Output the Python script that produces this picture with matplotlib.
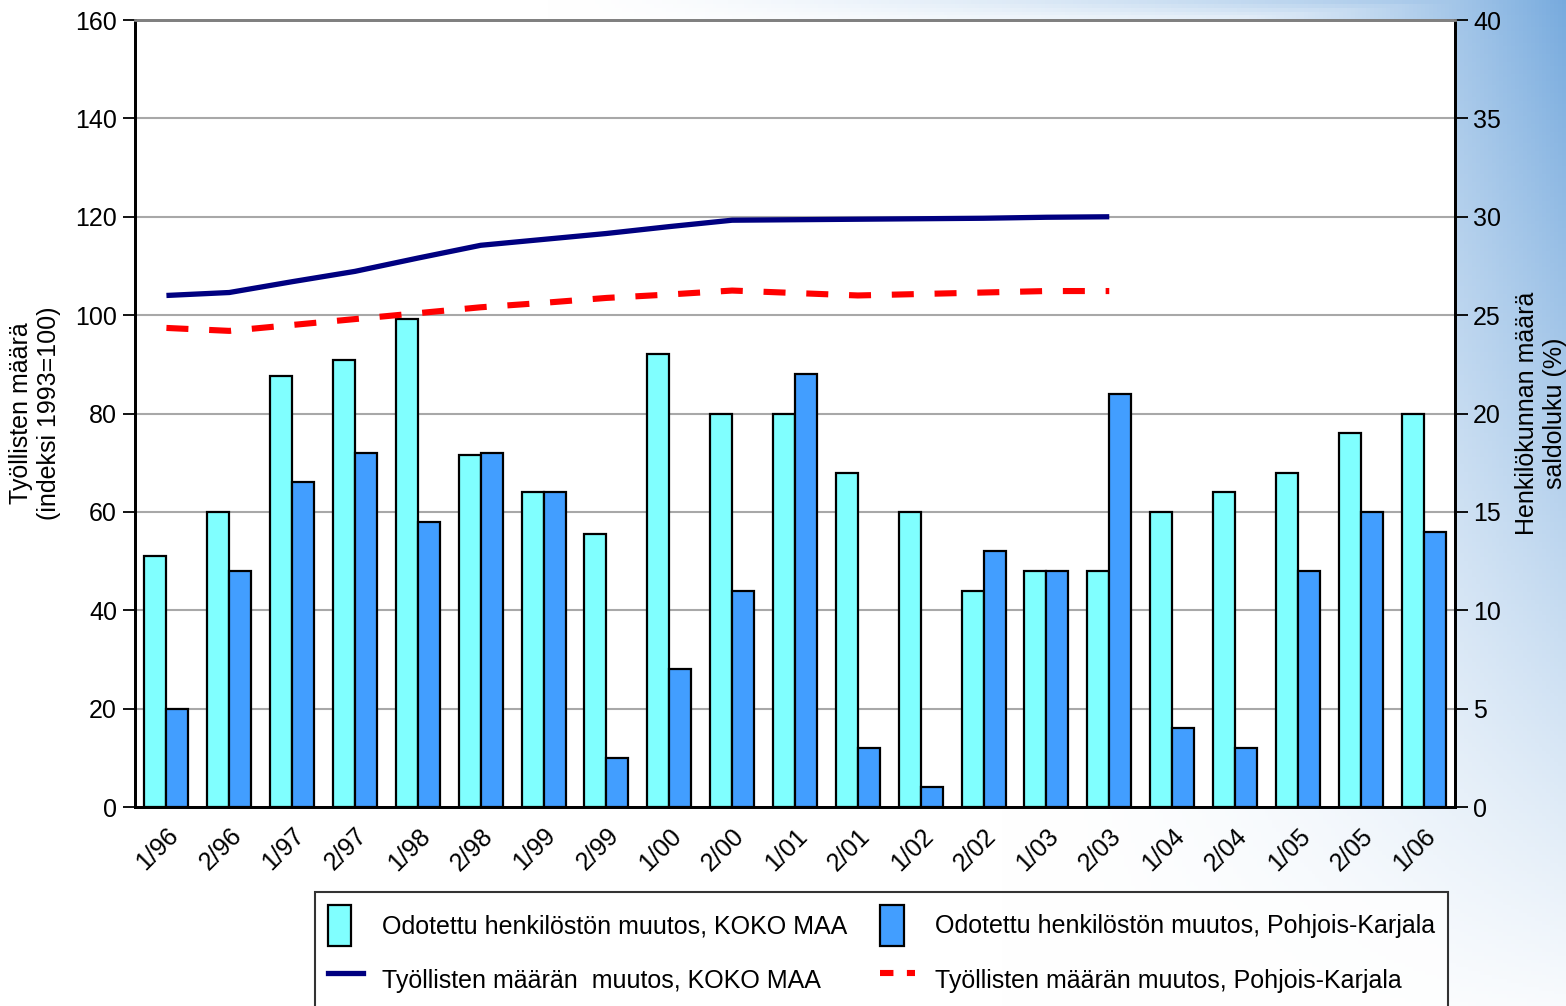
import matplotlib
matplotlib.use("Agg")
import matplotlib.pyplot as plt
import matplotlib.transforms as mtransforms
import numpy as np
from matplotlib.patches import Patch, Rectangle
from matplotlib.lines import Line2D
from matplotlib.legend_handler import HandlerPatch

plt.rcParams["font.family"] = ["Liberation Sans", "DejaVu Sans"]

# Data
periods = ["1/96", "2/96", "1/97", "2/97", "1/98", "2/98", "1/99", "2/99", "1/00", "2/00",
           "1/01", "2/01", "1/02", "2/02", "1/03", "2/03", "1/04", "2/04", "1/05", "2/05", "1/06"]

# expected change of staff, saldo % (right axis)
koko_maa_saldo = [12.75, 15, 21.9, 22.7, 24.8, 17.9, 16, 13.9, 23, 20,
                  20, 17, 15, 11, 12, 12, 15, 16, 17, 19, 20]
pk_saldo = [5, 12, 16.5, 18, 14.5, 18, 16, 2.5, 7, 11,
            22, 3, 1, 13, 12, 21, 4, 3, 12, 15, 14]

# employed persons, index 1993=100 (left axis), 1/96 - 2/03
koko_maa_index = [104.0, 104.6, 106.8, 108.9, 111.6, 114.2, 115.4, 116.6, 118.0, 119.3,
                  119.4, 119.5, 119.6, 119.7, 119.9, 120.0]
pk_index = [97.4, 96.8, 98.0, 99.2, 100.4, 101.6, 102.5, 103.5, 104.2, 105.0,
            104.5, 104.0, 104.3, 104.6, 104.9, 104.9]

cyan = "#80ffff"
blue = "#429eff"
navy = "#000080"
red = "#ff0000"
fs = 18

fig = plt.figure(figsize=(15.66, 10.06), dpi=100)

# background gradient (blue towards the right edge and top right)
bg = fig.add_axes([0, 0, 1, 1], zorder=-10)
gx, gy = np.meshgrid(np.linspace(0, 1, 400), np.linspace(0, 1, 260))
w_right = np.clip((gx - 0.64) / 0.36, 0, 1) ** 1.8 * np.clip(1 - 0.95 * gy, 0, 1)
w_top = np.clip((gx - 0.35) / 0.65, 0, 1) ** 1.5 * np.clip(1 - gy / 0.03, 0, 1) * 0.8
w = np.maximum(w_right, w_top)
base = np.array([0.47, 0.67, 0.87])
img = 1 - w[..., None] * (1 - base)
bg.imshow(img, aspect="auto", extent=[0, 1, 1, 0])
bg.set_xlim(0, 1)
bg.set_ylim(1, 0)
bg.axis("off")

ax2 = fig.add_axes([0.0862, 0.1978, 0.8429, 0.7823])
ax1 = ax2.twinx()
ax1.set_zorder(ax2.get_zorder() + 1)
ax1.patch.set_visible(False)

x = np.arange(len(periods)) + 0.5
bw = 0.35

# bars on the saldo axis
ax2.bar(x - bw / 2, koko_maa_saldo, bw, color=cyan, edgecolor="black", linewidth=1.6, zorder=3)
ax2.bar(x + bw / 2, pk_saldo, bw, color=blue, edgecolor="black", linewidth=1.6, zorder=3)
ax2.set_ylim(0, 40)
ax2.set_yticks(np.arange(0, 41, 5))
ax2.yaxis.tick_right()
ax2.yaxis.set_label_position("right")
ax2.grid(axis="y", color="#a8a8a8", linewidth=1.5)
ax2.set_axisbelow(True)
ax2.set_xlim(0, len(periods))
ax2.set_xticks(x)
ax2.set_xticklabels(periods, rotation=45, ha="right", va="top", rotation_mode="anchor", fontsize=fs)
shift = mtransforms.ScaledTranslation(0.16, 0, fig.dpi_scale_trans)
for lab in ax2.get_xticklabels():
    lab.set_transform(lab.get_transform() + shift)
ax2.tick_params(axis="x", length=0, pad=12)
ax2.tick_params(axis="y", length=9, width=1.3, labelsize=fs, pad=4)
ax2.set_ylabel("Henkilökunnan määrä\nsaldoluku (%)", fontsize=fs, rotation=90, labelpad=10)

# lines on the index axis
xl = x[:len(koko_maa_index)]
ax1.plot(xl, koko_maa_index, color=navy, linewidth=3.8, solid_capstyle="butt", zorder=4)
ax1.plot(xl, pk_index, color=red, linewidth=4.4, dashes=(3.6, 3.4), zorder=4)
ax1.set_ylim(0, 160)
ax1.set_yticks(np.arange(0, 161, 20))
ax1.yaxis.tick_left()
ax1.yaxis.set_label_position("left")
ax1.tick_params(axis="y", length=9, width=1.3, labelsize=fs, pad=4)
ax1.set_ylabel("Työllisten määrä\n(indeksi 1993=100)", fontsize=fs, labelpad=10)

for a in (ax1, ax2):
    a.spines["left"].set_linewidth(2)
    a.spines["right"].set_linewidth(2)
    a.spines["bottom"].set_linewidth(2)
    a.spines["top"].set_color("#808080")
    a.spines["top"].set_linewidth(2)

# legend
def narrow_patch(legend, orig_handle, xdescent, ydescent, width, height, fontsize):
    return Rectangle((-xdescent, -ydescent), width * 0.68, height)

handles = [
    Patch(facecolor=cyan, edgecolor="black", linewidth=1.6),
    Line2D([], [], color=navy, linewidth=3.8),
    Patch(facecolor=blue, edgecolor="black", linewidth=1.6),
    Line2D([], [], color=red, linewidth=4.4, dashes=(2.2, 2.2)),
]
labels = [
    "Odotettu henkilöstön muutos, KOKO MAA",
    "Työllisten määrän  muutos, KOKO MAA",
    "Odotettu henkilöstön muutos, Pohjois-Karjala",
    "Työllisten määrän muutos, Pohjois-Karjala",
]
leg = fig.legend(handles, labels, loc="upper left", bbox_to_anchor=(315 / 1566, 1 - 892 / 1006),
                 ncol=2, fontsize=fs, frameon=True, fancybox=False, edgecolor="black",
                 handlelength=1.4, handleheight=2.2, handletextpad=0.8, columnspacing=1.3,
                 labelspacing=0.5, borderpad=0.5, borderaxespad=0,
                 handler_map={Patch: HandlerPatch(patch_func=narrow_patch)})
leg.get_frame().set_linewidth(1.5)

fig.savefig("out.png", dpi=100)
